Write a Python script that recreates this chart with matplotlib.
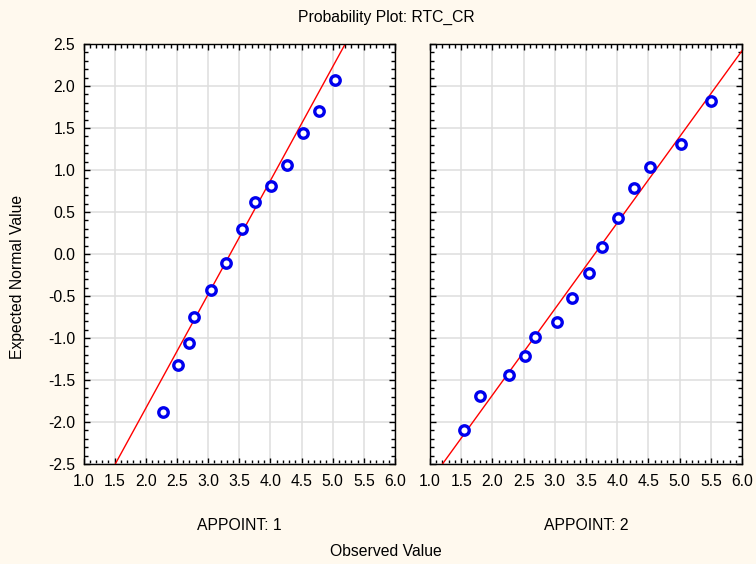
import numpy as np
import matplotlib
matplotlib.use("Agg")
import matplotlib.pyplot as plt
from matplotlib.ticker import MultipleLocator, FormatStrFormatter

plt.rcParams['font.family'] = ['Liberation Sans', 'DejaVu Sans']
plt.rcParams['axes.unicode_minus'] = False

obs_1 = [2.27, 2.51, 2.69, 2.78, 3.04, 3.29, 3.54, 3.76, 4.01, 4.27, 4.53, 4.78, 5.03]
exp_1 = [-1.88, -1.32, -1.06, -0.75, -0.43, -0.11, 0.30, 0.62, 0.81, 1.06, 1.44, 1.70, 2.07]
obs_2 = [1.55, 1.80, 2.27, 2.52, 2.69, 3.03, 3.28, 3.55, 3.76, 4.01, 4.27, 4.52, 5.03, 5.50]
exp_2 = [-2.10, -1.69, -1.44, -1.22, -0.99, -0.81, -0.52, -0.23, 0.08, 0.43, 0.78, 1.03, 1.31, 1.82]

# reference line (intercept, slope) of each panel
line_1 = (-4.546, 1.355)
line_2 = (-3.73, 1.025)

labels = ["APPOINT: 1", "APPOINT: 2"]
bg = "#FFF9EE"
fs = 11.3

fig = plt.figure(figsize=(7.56, 5.64), dpi=100, facecolor=bg)
ax1 = fig.add_axes([83.5/756, 100/564, 311.5/756, 420/564])
ax2 = fig.add_axes([430/756, 100/564, 312/756, 420/564])

for ax, xs, ys, (b, m), lab in [(ax1, obs_1, exp_1, line_1, labels[0]),
                                 (ax2, obs_2, exp_2, line_2, labels[1])]:
    ax.set_facecolor("white")
    ax.set_xlim(1.0, 6.0)
    ax.set_ylim(-2.5, 2.5)
    ax.xaxis.set_major_locator(MultipleLocator(0.5))
    ax.xaxis.set_minor_locator(MultipleLocator(0.1))
    ax.yaxis.set_major_locator(MultipleLocator(0.5))
    ax.yaxis.set_minor_locator(MultipleLocator(0.1))
    ax.xaxis.set_major_formatter(FormatStrFormatter("%.1f"))
    ax.yaxis.set_major_formatter(FormatStrFormatter("%.1f"))
    ax.grid(True, which="major", color="#DEDEDE", linewidth=1.1, zorder=0)
    ax.set_axisbelow(True)
    ax.tick_params(which="both", direction="in", top=True, right=True,
                   width=1, colors="black", labelsize=fs)
    ax.tick_params(which="major", length=4)
    ax.tick_params(which="minor", length=3)
    ax.tick_params(axis="x", pad=7)
    ax.tick_params(axis="y", pad=6)
    for s in ax.spines.values():
        s.set_linewidth(1)
    ax.axline((0, b), slope=m, color="red", linewidth=1, zorder=2)
    ax.plot(xs, ys, linestyle="none", marker="o", markersize=6.8,
            markerfacecolor="white", markeredgecolor="#0000EE",
            markeredgewidth=2.4, zorder=3)
    ax.set_xlabel(lab, fontsize=fs, labelpad=21)

ax2.tick_params(axis="y", labelleft=False)

fig.text(386/756, 1 - 17/564, "Probability Plot: RTC_CR", ha="center", va="center", fontsize=fs)
fig.text(386/756, 1 - 551/564, "Observed Value", ha="center", va="center", fontsize=fs)
fig.text(18/756, 1 - 277/564, "Expected Normal Value", ha="center", va="center",
         rotation=90, fontsize=fs)

fig.savefig("out.png", dpi=100, facecolor=bg)
